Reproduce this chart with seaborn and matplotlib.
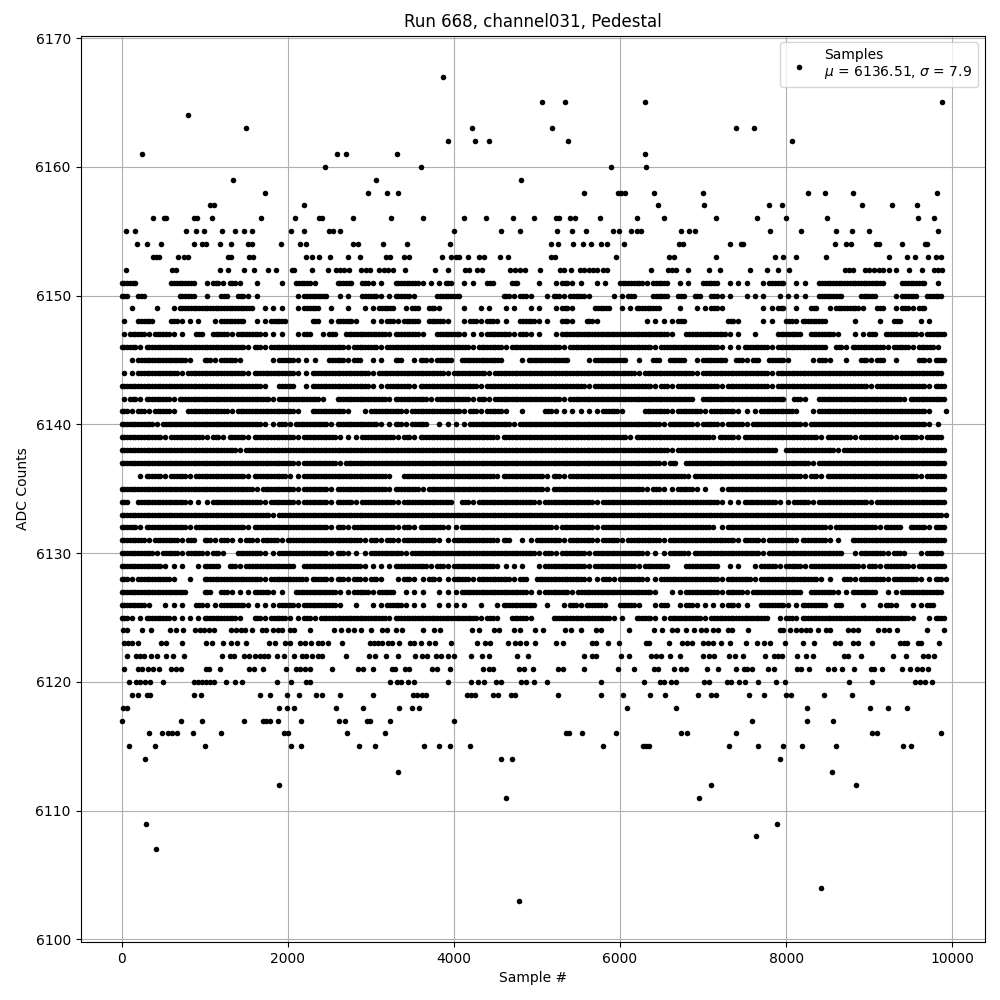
import matplotlib
matplotlib.use("Agg")
import matplotlib.pyplot as plt
import pandas as pd
import seaborn as sns

# Sparse levels: sample numbers
s6167 = [3867]
s6165 = [5060, 5337, 6301, 9880]
s6164 = [795]
s6163 = [1494, 4217, 5181, 7397, 7614]
s6162 = [3928, 4253, 4422, 5373, 8072]
s6161 = [241, 2590, 2699, 3313, 6301]
s6160 = [2446, 3602, 5892, 6313]
s6159 = [1337, 3060, 4807]
s6158 = [1723, 2964, 3193, 3325, 5566, 5976, 6012, 6060, 6410, 7000, 8265, 8470, 8807, 9819]
s6157 = [1060, 1108, 2193, 6458, 7012, 7795, 7952, 8915, 9277, 9578]
s6156 = [373, 506, 538, 867, 912, 1084, 1675, 2084, 2373, 2414, 2783, 3241, 3626, 4120, 4386, 4711,
         4964, 5229, 5265, 5398, 5458, 5759, 6205, 6530, 7157, 7650, 8000, 8494, 9590, 9783]
s6155 = [48, 157, 771, 891, 988, 1205, 1361, 1470, 1566, 2036, 2193, 2494, 2542, 2626, 4000, 4566, 4795,
         5241, 5422, 5590, 5916, 5988, 6133, 6205, 6253, 6735, 6831, 6904, 7807, 8181, 8602, 8795, 9000, 9831]
s6154 = [181, 301, 470, 867, 964, 1012, 1181, 1313, 1518, 1566, 1916, 2145, 2217, 2783, 2843, 3145, 3434, 3952,
         5169, 5253, 5434, 5554, 5651, 5771, 5843, 6048, 6711, 6759, 7325, 7458, 7482, 8590, 8723, 8783, 9084, 9120,
         9398, 9675, 9699]
s6153 = [373, 410, 446, 675, 747, 795, 1277, 1313, 1530, 1578, 2217, 2289, 2373, 2506, 2723, 2867, 3181, 3229, 3398,
         3458, 3855, 3964, 4024, 4060, 4169, 4301, 4361, 4554, 4651, 5169, 5217, 5952, 6590, 6650, 7157, 7867, 7964,
         8120, 8482, 9241, 9458, 9554, 9711, 9807, 9867]
s6152 = [48, 602, 651, 1181, 1277, 1470, 1590, 1759, 1855, 2048, 2072, 2289, 2482, 2578, 2626, 2675, 2735, 2880, 2940,
         2988, 3096, 3157, 3205, 3265, 3410, 3771, 3928, 4133, 4181, 4277, 4337, 4675, 4735, 4795, 4855, 5036, 5277,
         5325, 5410, 5518, 5566, 5627, 5675, 5723, 5795, 5843, 6373, 6578, 6626, 6675, 6819, 7072, 7205, 7566, 7771,
         7904, 8036, 8711, 8759, 8807, 8952, 9000, 9060, 9120, 9169, 9241, 9325, 9482, 9639, 9783, 9831, 9880]
s6124 = [12, 60, 241, 349, 578, 651, 735, 880, 940, 988, 1048, 1108, 1313, 1373, 1434, 1482, 1566, 1687, 1735, 1819,
         1880, 1928, 2024, 2072, 2265, 2554, 2638, 2723, 2795, 2888, 3000, 3133, 3193, 3301, 3373, 3626, 3759, 3831,
         4217, 4301, 4482, 4542, 4723, 4795, 4976, 5076, 5337, 5410, 5530, 5711, 5771, 6108, 6410, 6506, 6627, 6687,
         6795, 6892, 6976, 7036, 7120, 7181, 7301, 7349, 7538, 7928, 7964, 8048, 8120, 8181, 8241, 8289, 8386, 8482,
         8530, 8747, 8807, 8867, 9108, 9181, 9241, 9337, 9699, 9904]
s6123 = [24, 72, 120, 193, 470, 530, 723, 1012, 1084, 1217, 1313, 1386, 1494, 1771, 1843, 1964, 2024, 2145, 2205, 2277,
         2361, 2410, 2482, 2651, 2988, 3036, 3084, 3132, 3205, 3253, 3337, 3470, 3518, 3602, 3699, 3771, 3964, 4277,
         4373, 4434, 4651, 4735, 4795, 4867, 4976, 5229, 5313, 5663, 5711, 5855, 5988, 6313, 6349, 6590, 6747, 6807,
         6867, 7000, 7060, 7120, 7217, 7325, 7518, 7650, 7735, 7807, 7988, 8205, 8337, 8590, 8651, 8807, 8867, 9036,
         9373, 9422, 9458, 9590, 9627, 9843]
s6122 = [60, 169, 217, 265, 349, 422, 530, 614, 747, 1205, 1301, 1349, 1470, 1530, 1602, 1663, 1711, 1759, 1867, 1952,
         2072, 2169, 2217, 2289, 2361, 2410, 2699, 2976, 3048, 3181, 3325, 3530, 3614, 3675, 3783, 3843, 3928, 4000,
         4205, 4337, 4422, 4763, 4891, 5566, 5663, 5711, 6012, 6108, 6373, 6434, 6494, 6602, 6723, 7000, 7072, 7133,
         7313, 7386, 7482, 7747, 7855, 7904, 7952, 8133, 8241, 8325, 8699, 8747, 8908, 9289, 9446, 9651, 9711, 9783]
s6121 = [24, 193, 241, 313, 373, 446, 590, 651, 711, 1012, 1048, 1181, 1530, 1590, 1699, 1976, 2096, 2145, 2205, 2265,
         2530, 2843, 2904, 3024, 3253, 3289, 3410, 3458, 3735, 3795, 3952, 4349, 4422, 4470, 4783, 4843, 4952, 5253,
         5313, 5566, 5976, 6169, 6410, 6458, 6651, 6735, 6795, 7048, 7181, 7397, 7494, 7530, 7590, 7783, 7855, 8133,
         8181, 8277, 8506, 8578, 8675, 8819, 9024, 9060, 9157, 9398, 9494, 9578, 9639, 9711]
s6120 = [84, 169, 217, 277, 337, 494, 867, 916, 964, 1012, 1060, 1108, 1253, 1361, 1446, 1867, 2036, 2217, 2265, 3229,
         3313, 3361, 3446, 3518, 3928, 4205, 4289, 4361, 4506, 4566, 4807, 4867, 4964, 5120, 5771, 6289, 6482, 6530,
         6614, 6675, 7012, 7072, 7289, 7337, 7434, 7506, 7667, 7875, 7984, 8755, 9032, 9558, 9618, 9667, 9751]
s6119 = [120, 193, 301, 337, 867, 952, 1663, 1783, 1988, 2133, 2337, 2410, 2626, 3024, 3506, 3554, 3614, 3663, 4157,
         4205, 4253, 4470, 4530, 4687, 4735, 5253, 5771, 6036, 6361, 6542, 6940, 7096, 7157, 7554, 7735, 8000, 8060,
         8454, 8791]
s6118 = [12, 60, 1892, 1988, 2072, 2578, 2904, 3337, 3494, 3578, 6084, 6675, 8253, 9012, 9229, 9458]
s6117 = [0, 711, 964, 1470, 1699, 1735, 1783, 1880, 2157, 2614, 2687, 2952, 2988, 3229, 4000, 7590, 8253, 8566]
s6116 = [325, 482, 554, 602, 663, 855, 1193, 1952, 2000, 2711, 3169, 5345, 5386, 5542, 5952, 6735, 6807, 7397, 9036,
         9096, 9867]
s6115 = [84, 398, 1000, 2036, 2157, 2855, 3048, 3638, 3819, 3952, 4193, 5795, 6277, 6313, 6349, 7313, 7663, 7964,
         8193, 8602, 9410, 9506]
s6114 = [277, 4566, 4699, 7932]
s6113 = [3325, 8550]
s6112 = [1892, 7096, 8843]
s6111 = [4626, 6952]
s6109 = [289, 7896]
s6108 = [7638]
s6107 = [410]
s6104 = [8422]
s6103 = [4783]

# Dense levels: one character per 100 samples, '#' three samples, '.' one sample, '_' none
d6151 = "##____###_|.#.#._.__.|_##.__##_#|.._###...#|_.._#__#__|._.#.._.._|###.##_.._|##_..._.##|_.._######|##__###_._"
d6150 = "#_#____##_|._#_#..___|_.###_.._#|#..##.__##|#_____#.#.|_.#.##.__.|.#__##_#_#|_#.._..._.|..._###__#|#__.##_##_"
d6149 = "_.__._.###|######_...|_.##_._._.|.##_.#_#._|_._.._.._.|._.#.__##_|..###__._.|.#.____..#|_._#_.###.|_#_.#.#___"
d6148 = "._##__#...|_.###_..##|___#_.##._|..#.##_##.|_.#.#.._##|.._#._#.__|___....#__|___#.__.._|#.###___._|_._#__..__"
d6147 = ".##.##.._#|_##.###...|_.#_.#_###|##.###._##|#...###.#.|._.#######|######._##|###.._.__#|##_###._..|#_####.###"
d6146 = "##.#######|#####.#.##|#######.##|#.########|##.###.###|###.######|####.#####|##...###.#|#####_#.##|##.##.##._"
d6145 = "_.######._|#.##.___.#|#..._##.#_|.._#_.#.##|_#####__.#|####__.###|#_._#_##_.|###_#.#_##|.__.#._._#|.#_.__#.##"
d6144 = "..#####.##|#####.####|#..#######|.########.|####.#####|##########|##.######.|########.#|##########|#########_"
d6143 = "##########|#######._#|#_.#######|..###.####|###.######|######.###|####.#.###|##.#####.#|##########|.######.##"
d6142 = ".#.###.###|########.#|####._####|##.####.##|##.#.#####|###.######|#########_|##########|_#._######|####.#####"
d6141 = "#.#.##._##|###.######|#._####._.|####.#####|#.#.##._._|_#......##|.__###.###|.###...###|#._.######|#######._."
d6140 = "####.#####|#######..#|.####.####|#..#.##_..|..#####.##|##########|#####.###.|##.##.####|##.#######|#######.._"
d6139 = "#####.####|.#.##.####|#.####...#|###.#.####|#####.####|##########|#.########|#.##.#####|####.###.#|###.##.##_"
d6138 = "##########|####.#####|##########|##########|##########|##########|######.###|#########_|######.###|##########"
d6137 = "##########|##########|#.####.###|##########|##########|##########|#####.#_##|##########|###.######|##########"
d6136 = "__.##.##.#|#####.####|..########|##._######|#####.####|#.#.######|########.#|##########|##.#.#####|######.###"
d6135 = "##########|######.###|#.###.####|##.###.###|##########|#.########|###.#..##.|._.#######|##########|##########"
d6134 = "#_######..|.######.##|#.###.##.#|###.######|_#.#######|.######.##|##########|##...####.|.##.######|.#########"
d6133 = "##########|########.#|##########|##########|##########|##########|##########|##########|##########|#########."
d6132 = "##.#####.#|#####.####|#####.#.##|###.#.###.|.#########|##.####.##|##########|#..#######|#####.####|#.##_##.##"
d6131 = "###.###.#_|#.#..#.##.|#########.|#.#.####..|#####.#_..|###.###.##|.####.####|####.##.##|#.###.._##|##########"
d6130 = "####.##.##|.#._###..#|#####.#...|####.#####|##########|.#.###.###|###...##.#|#######.##|#######_.#|##.#._.##_"
d6129 = "#####..._.|##_#.#####|#_#######.|...####.#.|#####...._|.#####.###|##.###__##|##_.._.##.|##.######.|#.###.####"
d6128 = "#.####._._|#######.##|##.##.#.#.|#._.#..#..|##.####.#_|######..#.|###..#####|##.###.###|####.._#.#|##.###..#."
d6127 = "########__|#_#...##..|_#####..##|.##_..._..|.########.|.###.#####|####._..##|##.##.####|##_###..##|#_..#####_"
d6126 = "###._..._#|..###....#|#.####._._|..##..._..|.._._.####|_._.#.##._|##._.#_.#.|...#.._###|..###_#__.|_.#._..#__"
d6125 = "#..###....|####._#.##|..#.######|##.#######|###.#._##.|__#######.|._##..####|.#######_.|#.########|#####._.##"

sparse_levels = {6167: s6167, 6165: s6165, 6164: s6164, 6163: s6163, 6162: s6162, 6161: s6161, 6160: s6160,
                 6159: s6159, 6158: s6158, 6157: s6157, 6156: s6156, 6155: s6155, 6154: s6154, 6153: s6153,
                 6152: s6152, 6124: s6124, 6123: s6123, 6122: s6122, 6121: s6121, 6120: s6120, 6119: s6119,
                 6118: s6118, 6117: s6117, 6116: s6116, 6115: s6115, 6114: s6114, 6113: s6113, 6112: s6112,
                 6111: s6111, 6109: s6109, 6108: s6108, 6107: s6107, 6104: s6104, 6103: s6103}
dense_levels = {6151: d6151, 6150: d6150, 6149: d6149, 6148: d6148, 6147: d6147, 6146: d6146, 6145: d6145,
                6144: d6144, 6143: d6143, 6142: d6142, 6141: d6141, 6140: d6140, 6139: d6139, 6138: d6138,
                6137: d6137, 6136: d6136, 6135: d6135, 6134: d6134, 6133: d6133, 6132: d6132, 6131: d6131,
                6130: d6130, 6129: d6129, 6128: d6128, 6127: d6127, 6126: d6126, 6125: d6125}

title = "Run 668, channel031, Pedestal"
x_label = "Sample #"
y_label = "ADC Counts"
legend_label = "Samples\n$\\mu$ = 6136.51, $\\sigma$ = 7.9"
x_ticks = [0, 2000, 4000, 6000, 8000, 10000]
y_ticks = [6100, 6110, 6120, 6130, 6140, 6150, 6160, 6170]

samples, counts = [], []
for level, xs in sparse_levels.items():
    samples.extend(xs)
    counts.extend([level] * len(xs))
for level, pattern in dense_levels.items():
    for i, ch in enumerate(pattern.replace("|", "")):
        if ch == "#":
            new = [i * 100, i * 100 + 33, i * 100 + 66]
        elif ch == ".":
            new = [i * 100 + 25]
        else:
            new = []
        new = [v for v in new if v <= 9925]
        samples.extend(new)
        counts.extend([level] * len(new))
df = pd.DataFrame({"sample": samples, "adc": counts})

fig, ax = plt.subplots(figsize=(10, 10), dpi=100)
fig.subplots_adjust(left=0.0805, right=0.985, top=0.9645, bottom=0.058)
sns.scatterplot(data=df, x="sample", y="adc", color="black", marker="o", s=16, linewidth=0,
                zorder=2, label=legend_label, ax=ax)
ax.set_xlim(-495, 10395)
ax.set_ylim(6099.8, 6170.2)
ax.set_xticks(x_ticks)
ax.set_yticks(y_ticks)
ax.ticklabel_format(axis="y", useOffset=False, style="plain")
ax.grid(True)
ax.set_title(title)
ax.set_xlabel(x_label)
ax.set_ylabel(y_label)
ax.legend(loc="upper right")
fig.savefig("out.png", dpi=100)
